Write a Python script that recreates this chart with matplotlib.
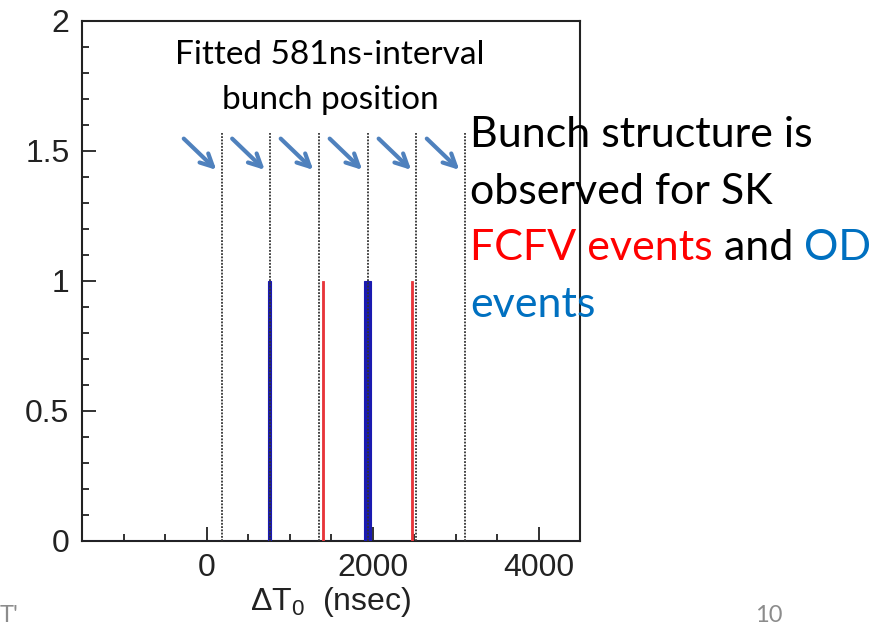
import numpy as np
import matplotlib
matplotlib.use("Agg")
import matplotlib.pyplot as plt
from matplotlib.ticker import MultipleLocator

# Event times relative to the first bunch (ns)
od_events = [755, 1915, 1955]          # OD events
fcfv_events = [1395, 2490]             # FCFV events
bunch_positions = [182, 765, 1350, 1940, 2530, 3110]   # fitted bunch centres
bin_width = 40
x_range = (-1500, 4500)
y_range = (0, 2)

plt.rcParams["mathtext.fontset"] = "custom"
plt.rcParams["mathtext.sf"] = "Liberation Sans"
plt.rcParams["mathtext.rm"] = "Liberation Sans"
plt.rcParams["mathtext.it"] = "Liberation Sans"

W, H = 877, 630
fig = plt.figure(figsize=(W / 100, H / 100), dpi=100)
fig.patch.set_facecolor("white")

ax = fig.add_axes([82 / W, 1 - 541 / H, (580 - 82) / W, (541 - 21) / H])
bins = np.arange(x_range[0], x_range[1] + bin_width, bin_width)

ax.hist(od_events, bins=bins, histtype="bar", rwidth=1.0, color="#1a1ab0",
        edgecolor="#1a1ab0", lw=0.8, zorder=3)
ax.hist(fcfv_events, bins=bins, histtype="bar", rwidth=0.55, color="#e8353a",
        edgecolor="#e8353a", lw=0.6, zorder=3)

for xb in bunch_positions:
    ax.plot([xb, xb], [0, 1.57], color="#333333", ls=(0, (1, 0.8)), lw=1.3, zorder=4)

ax.set_xlim(*x_range)
ax.set_ylim(*y_range)
ax.xaxis.set_major_locator(MultipleLocator(2000))
ax.xaxis.set_minor_locator(MultipleLocator(500))
ax.yaxis.set_minor_locator(MultipleLocator(0.1))
ax.set_yticks([0, 0.5, 1, 1.5, 2])
ax.set_yticklabels(["0", "0.5", "1", "1.5", "2"])
ax.tick_params(which="both", direction="in", top=False, right=False,
               labelsize=23, colors="#222222", labelcolor="#222222", width=1.3)
ax.tick_params(which="major", length=10, pad=9)
ax.tick_params(which="minor", length=5)
for lab in ax.get_xticklabels() + ax.get_yticklabels():
    lab.set_fontfamily("Liberation Sans")
for s in ax.spines.values():
    s.set_linewidth(1.5)
    s.set_color("#222222")

ax.set_xlabel(r"$\Delta$T$_{0}$  (nsec)", fontsize=23,
              fontfamily="Liberation Sans", color="#222222", labelpad=1)

# Arrows pointing at the fitted bunch positions
for xb in bunch_positions:
    ax.annotate("", xy=(xb - 40, 1.42), xytext=(xb - 480, 1.555),
                arrowprops=dict(arrowstyle="->,head_length=0.9,head_width=0.45",
                                color="#4F81BD", lw=3.0), zorder=5)

fig.canvas.draw()
renderer = fig.canvas.get_renderer()


def fit_size(txt, target_w, fam, base=20):
    t = fig.text(0, 0, txt, fontsize=base, fontfamily=fam)
    w = t.get_window_extent(renderer).width
    t.remove()
    return base * target_w / w


fam = "Lato"
fs_top = fit_size("Fitted 581ns-interval", 310, fam)
fig.text(330 / W, 1 - 55 / H, "Fitted 581ns-interval", ha="center", va="center",
         fontsize=fs_top, fontfamily=fam, color="black")
fig.text(330 / W, 1 - 100 / H, "bunch position", ha="center", va="center",
         fontsize=fs_top, fontfamily=fam, color="black")

# Right-hand annotation with mixed colours
fs = fit_size("Bunch structure is", 345, fam)
x0 = 470
lines = [
    [("Bunch structure is", "black")],
    [("observed for SK", "black")],
    [("FCFV events", "#FF0000"), ("\u00a0and\u00a0", "black"), ("OD", "#0070C0")],
    [("events", "#0070C0")],
]
line_y = [135, 192, 248, 305]
for parts, yc in zip(lines, line_y):
    xc = x0
    for txt, col in parts:
        t = fig.text(xc / W, 1 - yc / H, txt, ha="left", va="center",
                     fontsize=fs, fontfamily=fam, color=col)
        xc += t.get_window_extent(renderer).width

# Slide footer fragments
fig.text(755 / W, 1 - 616 / H, "10", ha="left", va="center", fontsize=17,
         fontfamily=fam, color="#8c8c8c")
fig.text(0 / W, 1 - 616 / H, "T'", ha="left", va="center", fontsize=17,
         fontfamily=fam, color="#8c8c8c")

fig.savefig("out.png", dpi=100, facecolor="white")
